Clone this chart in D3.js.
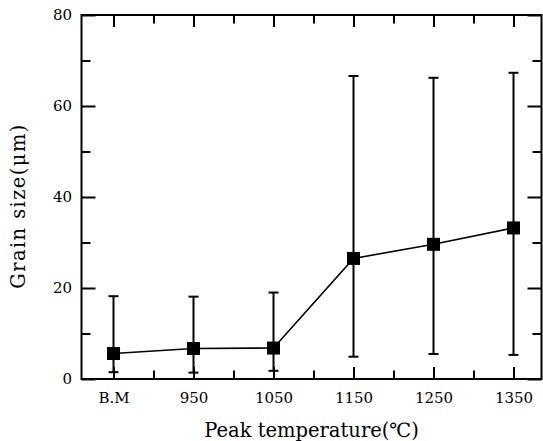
<!DOCTYPE html>
<html>
<head>
<meta charset="utf-8">
<script src="https://cdn.jsdelivr.net/npm/d3@7"></script>
<style>
  body { margin: 0; background: #fff; }
  text { font-family: "DejaVu Serif", serif; fill: #000; }
</style>
</head>
<body>
<div id="container"></div>
<script>
/* DATA */
const categories = ["B.M", "950", "1050", "1150", "1250", "1350"];
const meanSize = [5.6, 6.7, 6.8, 26.5, 29.6, 33.2];
const upperSize = [18.2, 18.1, 19.0, 66.6, 66.2, 67.3];
const lowerSize = [1.5, 1.4, 1.8, 4.9, 5.5, 5.3];
const yMajor = [0, 20, 40, 60, 80];
const yMinor = [10, 30, 50, 70];

/* CONSTANTS */
const width = 543, height = 441;
const margin = { top: 15, bottom: 62, left: 81.5, right: 1.5 };

const idx = categories.map((d, i) => i);
const halfIdx = idx.slice(0, -1).map(i => i + 0.5);

const xScale = d3.scaleLinear()
  .domain([-0.4, 5.35])
  .range([margin.left, width - margin.right]);

const yScale = d3.scaleLinear()
  .domain([0, 80])
  .range([height - margin.bottom, margin.top]);

const svg = d3.select("#container")
  .append("svg")
  .attr("width", width)
  .attr("height", height);

// axes helper: draws ticks, strips the domain line
function addAxis(axis, tx, ty) {
  const g = svg.append("g")
    .attr("transform", `translate(${tx},${ty})`)
    .call(axis);
  g.select(".domain").remove();
  g.selectAll(".tick line").attr("stroke", "#000").attr("stroke-width", 2);
  g.selectAll(".tick text").attr("font-size", 15).attr("font-family", "DejaVu Serif");
  return g;
}

const x0 = margin.left, x1 = width - margin.right;
const y0 = height - margin.bottom, y1 = margin.top;

// bottom
addAxis(d3.axisBottom(xScale).tickValues(idx).tickSize(-12).tickPadding(13)
  .tickFormat(i => categories[i]), 0, y0);
addAxis(d3.axisBottom(xScale).tickValues(halfIdx).tickSize(-8.5).tickFormat(""), 0, y0);
// top
addAxis(d3.axisTop(xScale).tickValues(idx).tickSize(-12).tickFormat(""), 0, y1);
addAxis(d3.axisTop(xScale).tickValues(halfIdx).tickSize(-8.5).tickFormat(""), 0, y1);
// left
addAxis(d3.axisLeft(yScale).tickValues(yMajor).tickSize(-14).tickPadding(9.5), x0, 0);
addAxis(d3.axisLeft(yScale).tickValues(yMinor).tickSize(-9).tickFormat(""), x0, 0);
// right
addAxis(d3.axisRight(yScale).tickValues(yMajor).tickSize(-14).tickFormat(""), x1, 0);
addAxis(d3.axisRight(yScale).tickValues(yMinor).tickSize(-9).tickFormat(""), x1, 0);

// frame
svg.append("rect")
  .attr("x", x0).attr("y", y1)
  .attr("width", x1 - x0).attr("height", y0 - y1)
  .attr("fill", "none").attr("stroke", "#000").attr("stroke-width", 2);

// error bars
const capW = 5;
const bars = svg.append("g").attr("stroke", "#000").attr("stroke-width", 2);
bars.selectAll("line.stem").data(idx).join("line")
  .attr("class", "stem")
  .attr("x1", i => xScale(i)).attr("x2", i => xScale(i))
  .attr("y1", i => yScale(upperSize[i])).attr("y2", i => yScale(lowerSize[i]));
bars.selectAll("line.capTop").data(idx).join("line")
  .attr("class", "capTop")
  .attr("x1", i => xScale(i) - capW).attr("x2", i => xScale(i) + capW)
  .attr("y1", i => yScale(upperSize[i])).attr("y2", i => yScale(upperSize[i]));
bars.selectAll("line.capBot").data(idx).join("line")
  .attr("class", "capBot")
  .attr("x1", i => xScale(i) - capW).attr("x2", i => xScale(i) + capW)
  .attr("y1", i => yScale(lowerSize[i])).attr("y2", i => yScale(lowerSize[i]));

// mean line
const line = d3.line()
  .x(i => xScale(i))
  .y(i => yScale(meanSize[i]));
svg.append("path")
  .datum(idx)
  .attr("d", line)
  .attr("fill", "none")
  .attr("stroke", "#000")
  .attr("stroke-width", 1.6);

// markers
const ms = 13;
svg.selectAll("rect.marker").data(idx).join("rect")
  .attr("class", "marker")
  .attr("x", i => xScale(i) - ms / 2)
  .attr("y", i => yScale(meanSize[i]) - ms / 2)
  .attr("width", ms).attr("height", ms)
  .attr("fill", "#000");

// axis titles
svg.append("text")
  .attr("x", (x0 + x1) / 2)
  .attr("y", 437)
  .attr("text-anchor", "middle")
  .attr("font-size", 19.5)
  .text("Peak temperature(℃)");

svg.append("text")
  .attr("transform", "translate(25,206) rotate(-90)")
  .attr("text-anchor", "middle")
  .attr("font-size", 19.5)
  .attr("letter-spacing", 1.4)
  .text("Grain size(μm)");
</script>
</body>
</html>
